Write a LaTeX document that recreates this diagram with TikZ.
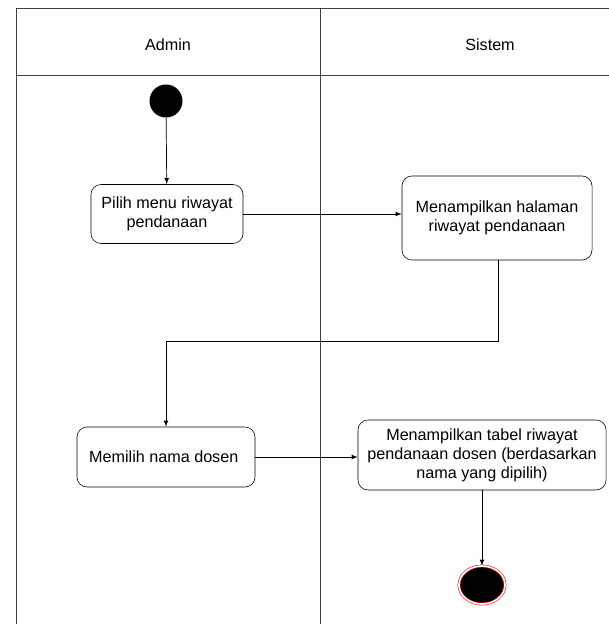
\documentclass[tikz,border=0pt]{standalone}
\usepackage{fontspec}
\setmainfont{Liberation Sans}
\usetikzlibrary{shapes.geometric}

\begin{document}
\begin{tikzpicture}[x=0.025cm, y=-0.025cm,
        every node/.style={font=\fontsize{11.5}{13.4}\selectfont},
        activity/.style={draw, rounded corners=0.25cm, align=center, inner sep=2pt},
        lane/.style={draw=black!75, line width=0.6pt},
        flow/.style={->, >=latex, line width=0.5pt}]
        \useasboundingbox (0,0) rectangle (609,624);
        % swimlanes
        \draw[lane] (16,8) -- (609,8);
        \draw[lane] (16,75) -- (609,75);
        \draw[lane] (16,8) -- (16,624);
        \draw[lane] (320,8) -- (320,624);
        \node (Admin) at (168,45) {Admin};
        \node (Sistem) at (490,45) {Sistem};
        % activities
        \node[circle, fill=black, minimum size=0.825cm, inner sep=0pt] (Start) at (166,101) {};
        \node[activity, minimum width=3.8cm, minimum height=1.475cm] (Pilih) at (167,214) {
            Pilih menu riwayat\\pendanaan
        };
        \node[activity, minimum width=4.75cm, minimum height=2.1cm] (Halaman) at (497,218) {
            Menampilkan halaman\\riwayat pendanaan
        };
        \node[activity, minimum width=4.45cm, minimum height=1.5cm] (Memilih) at (166,457) {
            Memilih nama dosen
        };
        \node[activity, minimum width=6.2cm, minimum height=1.75cm] (Tabel) at (482,455) {
            Menampilkan tabel riwayat\\pendanaan dosen (berdasarkan\\nama yang dipilih)
        };
        \node[ellipse, draw=red, double=white, double distance=1.2pt, fill=black,
            minimum width=1.15cm, minimum height=0.95cm, inner sep=0pt] (End) at (482,585) {};
        \coordinate (bend) at (498,341);
        % flows
        \draw[flow] (Start) -- (Pilih);
        \draw[flow] (Pilih) -- (Pilih -| Halaman.west);
        \draw[flow] (Halaman.south -| bend) -- (bend) -| (Memilih);
        \draw[flow] (Memilih) -- (Memilih -| Tabel.west);
        \draw[flow] (Tabel) -- (End);
\end{tikzpicture}
\end{document}
